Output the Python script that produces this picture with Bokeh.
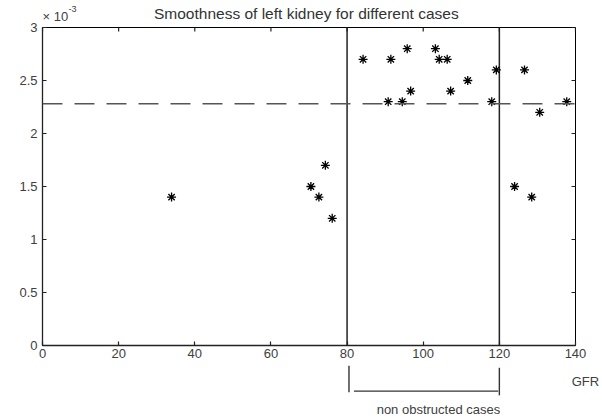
from bokeh.plotting import figure
from bokeh.models import Range1d, FixedTicker, Span
from bokeh.core.properties import value
from bokeh.embed import file_html
from bokeh.resources import INLINE
import math

# data (smoothness in units of 1e-3)
gfr = [33.9, 70.5, 72.6, 74.3, 76.1, 84.2, 90.8, 91.5, 94.5, 95.8, 96.7,
       103.2, 104.2, 106.3, 107.2, 111.7, 118.0, 119.2, 124.0, 126.6,
       128.5, 130.6, 137.7]
smooth = [1.4, 1.5, 1.4, 1.7, 1.2, 2.7, 2.3, 2.7, 2.3, 2.8, 2.4,
          2.8, 2.7, 2.7, 2.4, 2.5, 2.3, 2.6, 1.5, 2.6,
          1.4, 2.2, 2.3]
threshold = 2.28
bounds = [80, 120]
x_ticks = [0, 20, 40, 60, 80, 100, 120, 140]
y_ticks = [0, 0.5, 1, 1.5, 2, 2.5, 3]
y_tick_labels = ["0", "0.5", "1", "1.5", "2", "2.5", "3"]
title_text = "Smoothness of left kidney for different cases"
x_label = "GFR"
bracket_text = "non obstructed cases"

FONT = "Liberation Sans"
TXT = "#404040"
X0, X1, Y0, Y1 = 0, 140, 0, 3

p = figure(width=602, height=419, x_range=Range1d(X0, X1), y_range=Range1d(Y0, Y1),
           output_backend="svg", toolbar_location=None,
           min_border_left=42, min_border_right=27, min_border_top=27,
           min_border_bottom=74)
p.grid.visible = False
p.outline_line_color = "black"
p.outline_line_width = 1

for ax, ticks in ((p.xaxis[0], x_ticks), (p.yaxis[0], y_ticks)):
    ax.ticker = FixedTicker(ticks=ticks)
    ax.major_tick_in = 4
    ax.major_tick_out = 0
    ax.minor_tick_line_color = None
    ax.axis_line_color = "#222222"
    ax.axis_line_width = 1.3
    ax.major_tick_line_color = "#222222"
    ax.major_tick_line_width = 1.2
    ax.major_label_text_font = FONT
    ax.major_label_text_font_size = "13px"
    ax.major_label_text_color = TXT
p.xaxis[0].major_label_standoff = 3
p.yaxis[0].major_label_standoff = 5
p.yaxis[0].major_label_overrides = {t: s for t, s in zip(y_ticks, y_tick_labels)}

# inward ticks on top and right edges (half of each dash is clipped by the frame)
p.scatter(x=x_ticks, y=[Y1] * len(x_ticks), marker="dash", angle=math.pi / 2,
          size=8, line_color="#222222", line_width=1.2)
p.scatter(x=[X1] * len(y_ticks), y=y_ticks, marker="dash",
          size=8, line_color="#222222", line_width=1.2)

# dashed threshold
p.add_layout(Span(location=threshold, dimension="width", line_color="#555555",
                  line_width=1.4, line_dash="20 12"))

# vertical boundary lines
p.segment(x0=bounds, y0=[Y0, Y0], x1=bounds, y1=[Y1, Y1], line_color="#222222", line_width=1.5)

# points
p.scatter(gfr, smooth, marker="asterisk", size=9, line_color="black", line_width=1.3)

# bracket below axis
p.multi_line(xs=[[bounds[0] + 0.5, bounds[0] + 0.5],
                 [bounds[0] + 1.8, bounds[1] - 0.3],
                 [bounds[1], bounds[1]]],
             ys=[[-0.19, -0.44], [-0.43, -0.43], [-0.21, -0.47]],
             line_color="#333333", line_width=1.4, level="overlay")

def txt(x, y, s, size, align="center", color=TXT):
    p.text(x=[x], y=[y], text=[s], text_align=align, text_baseline="middle",
           text_font=value(FONT), text_font_size=size, text_color=color,
           level="overlay")

txt(104, -0.60, bracket_text, "13px")
txt(142.6, -0.34, x_label, "13px")
txt(69.3, 3.132, title_text, "15.5px", color="#333333")
txt(0, 3.10, "\u00d7 10", "13px", align="left")
txt(6.8, 3.175, "-3", "9px", align="left")

open("out.html", "w").write(file_html(p, INLINE))
